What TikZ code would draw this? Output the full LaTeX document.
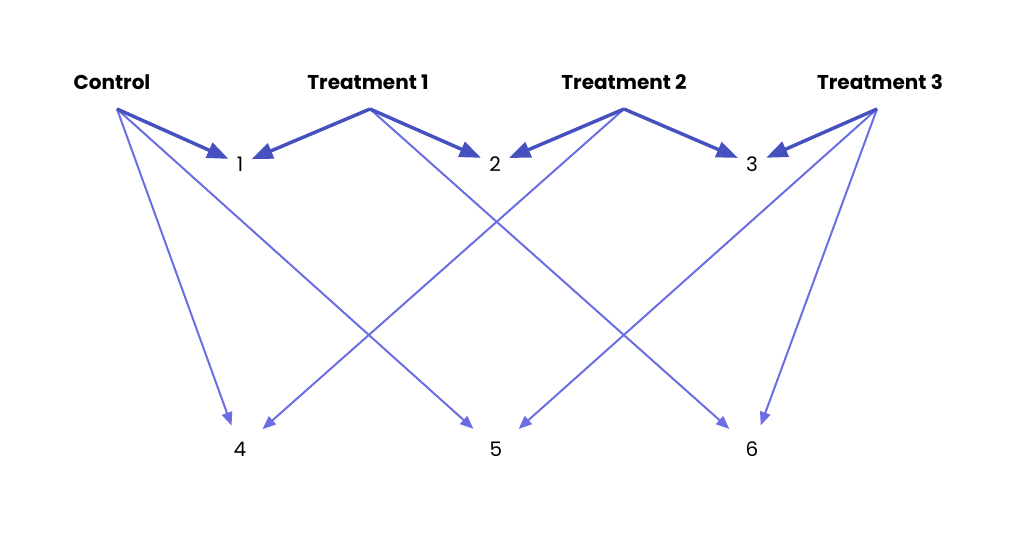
\documentclass[tikz,border=0pt]{standalone}
\usepackage{fontspec}
\setmainfont{Poppins}
\usetikzlibrary{arrows.meta}
\definecolor{dk}{HTML}{4651BF}
\definecolor{lt}{HTML}{6B6EE2}
\begin{document}
\begin{tikzpicture}[x=0.75pt,y=-0.75pt,
  hd/.style={font=\bfseries\fontsize{15}{18}\selectfont},
  num/.style={font=\fontsize{15}{18}\selectfont,inner sep=6pt},
  thick arr/.style={draw=dk,line width=2.6pt,-{Triangle[length=16pt,width=12pt]}},
  thin arr/.style={draw=lt,line width=1.5pt,-{Triangle[length=10pt,width=8pt]}}]
\useasboundingbox (0,0) rectangle (1024,543);
\node[hd] (c) at (112,82) {Control};
\node[hd] (t1) at (368,82) {Treatment 1};
\node[hd] (t2) at (624,82) {Treatment 2};
\node[hd] (t3) at (880,82) {Treatment 3};
\coordinate (sc) at (117,109);
\coordinate (s1) at (370,109);
\coordinate (s2) at (624,109);
\coordinate (s3) at (877,109);
\node[num] (n1) at (240,164) {1};
\node[num] (n2) at (495,164) {2};
\node[num] (n3) at (752,164) {3};
\node[num,inner sep=12pt] (n4) at (240,449) {4};
\node[num,inner sep=12pt] (n5) at (496,449) {5};
\node[num,inner sep=12pt] (n6) at (752,449) {6};
\draw[thin arr] (sc) -- (n4);
\draw[thin arr] (sc) -- (n5);
\draw[thin arr] (s1) -- (n6);
\draw[thin arr] (s2) -- (n4);
\draw[thin arr] (s3) -- (n5);
\draw[thin arr] (s3) -- (n6);
\draw[thick arr] (sc) -- (n1);
\draw[thick arr] (s1) -- (n1);
\draw[thick arr] (s1) -- (n2);
\draw[thick arr] (s2) -- (n2);
\draw[thick arr] (s2) -- (n3);
\draw[thick arr] (s3) -- (n3);
\end{tikzpicture}
\end{document}
